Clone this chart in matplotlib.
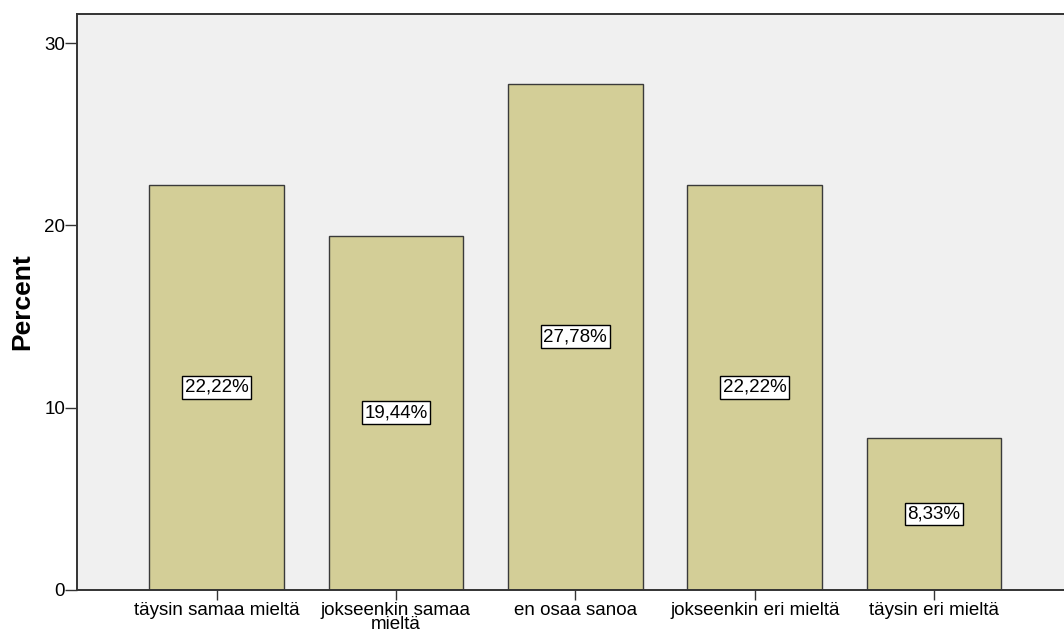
import numpy as np
import matplotlib
matplotlib.use('Agg')
import matplotlib.pyplot as plt

# Data
categories = ['täysin samaa mieltä', 'jokseenkin samaa\nmieltä', 'en osaa sanoa',
              'jokseenkin eri mieltä', 'täysin eri mieltä']
percents = [22.22, 19.44, 27.78, 22.22, 8.33]
value_labels = ['22,22%', '19,44%', '27,78%', '22,22%', '8,33%']
yticks = [0, 10, 20, 30]

plt.rcParams['font.family'] = ['Liberation Sans', 'DejaVu Sans']

fig = plt.figure(figsize=(10.64, 6.43), dpi=100)
ax = fig.add_axes([77 / 1064, 1 - 590 / 643, 1 - 77 / 1064, (590 - 13.5) / 643])
ax.set_facecolor('#F0F0F0')

x = np.arange(len(categories))
ax.bar(x, percents, width=0.75, color='#D3CE97', edgecolor='#3a3a3a', linewidth=1.0, zorder=2)

# value labels in the middle of each bar
for xi, val, lab in zip(x, percents, value_labels):
    ax.text(xi, val / 2, lab, ha='center', va='center', fontsize=13.5, zorder=3,
            bbox=dict(boxstyle='square,pad=0.15', facecolor='white', edgecolor='black', linewidth=1.0))

ax.set_xlim(-0.778, 4.724)
ax.set_ylim(0, 31.62)
ax.set_xticks(x)
ax.set_xticklabels(categories, fontsize=13.5, linespacing=0.8)
ax.set_yticks(yticks)
ax.tick_params(axis='x', length=7.5, width=1, color='#333333', pad=1)
ax.tick_params(axis='y', length=8.5, width=1, color='#333333', labelsize=13.5, pad=0)
ax.set_ylabel('Percent', fontsize=19, fontweight='bold', labelpad=7)

for side in ['left', 'bottom', 'top']:
    ax.spines[side].set_color('#333333')
    ax.spines[side].set_linewidth(1.4)
ax.spines['right'].set_visible(False)

fig.savefig('out.png', dpi=100)
